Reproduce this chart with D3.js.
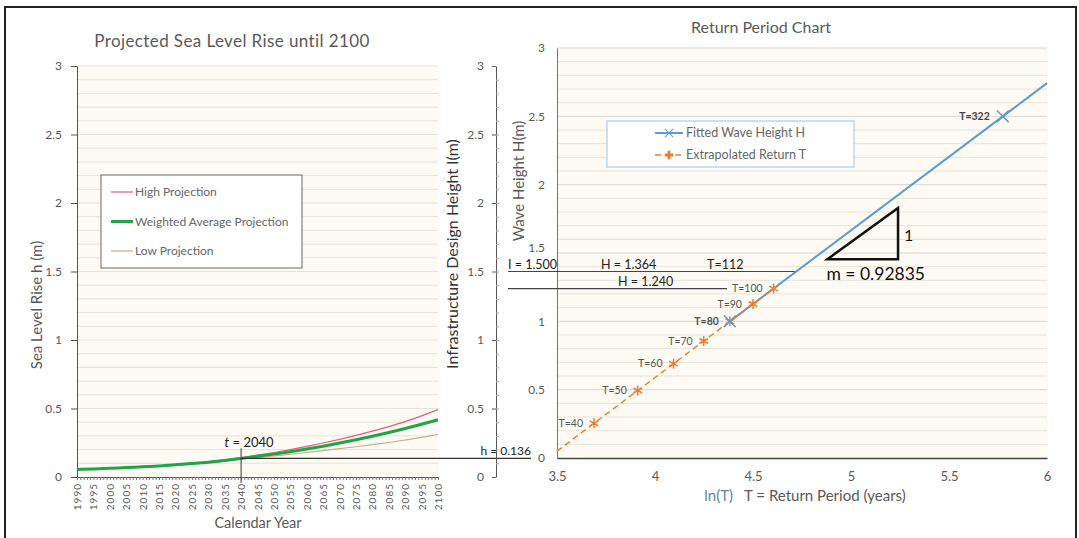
<!DOCTYPE html>
<html>
<head>
<meta charset="utf-8">
<script src="https://cdn.jsdelivr.net/npm/d3@7"></script>
<style>
  body { margin: 0; background: #fff; }
  text { font-family: Lato, "Open Sans", sans-serif; }
</style>
</head>
<body>
<div id="canvas"></div>
<script>
// ---- sea level projection (left chart) ----
const years = [1990, 1995, 2000, 2005, 2010, 2015, 2020, 2025, 2030, 2035, 2040, 2045,
  2050, 2055, 2060, 2065, 2070, 2075, 2080, 2085, 2090, 2095, 2100];
const highProj = [0.055, 0.059, 0.064, 0.069, 0.075, 0.082, 0.090, 0.100, 0.112, 0.126, 0.142, 0.160,
  0.179, 0.200, 0.223, 0.248, 0.275, 0.304, 0.335, 0.368, 0.404, 0.446, 0.492];
const weightedProj = [0.055, 0.059, 0.064, 0.069, 0.075, 0.081, 0.089, 0.098, 0.108, 0.121, 0.136, 0.151,
  0.167, 0.185, 0.204, 0.225, 0.248, 0.272, 0.298, 0.325, 0.354, 0.385, 0.418];
const lowProj = [0.055, 0.059, 0.063, 0.068, 0.074, 0.080, 0.087, 0.095, 0.105, 0.117, 0.130, 0.142,
  0.154, 0.166, 0.179, 0.193, 0.207, 0.221, 0.236, 0.252, 0.270, 0.289, 0.310];
const projNames = ["High Projection", "Weighted Average Projection", "Low Projection"];
const designYear = 2040;
const designRise = 0.136;

// ---- return period (right chart) ----
const returnPeriods = [40, 50, 60, 70, 80, 90, 100];
const extrapH = [0.254, 0.494, 0.690, 0.856, 1.0, 1.127, 1.240];
const extrapStart = [3.5, 0.05];      // [ln(T), H] where the dashed line enters
const fittedT = [80, 322];
const fittedH = [1.0, 2.5];
const fittedEnd = [6, 2.743];         // [ln(T), H] where the fitted line leaves
const designI = 1.5;
const designT = 112;
const designH = 1.364;
const slopeTri = [[4.88, 1.455], [5.24, 1.455], [5.24, 1.83]];
const slopeM = "0.92835";

const yTicks = [0, 0.5, 1, 1.5, 2, 2.5, 3];
const lnTicks = [3.5, 4, 4.5, 5, 5.5, 6];

let svg = d3.select("#canvas")
  .append("svg")
  .attr("width", 1079)
  .attr("height", 538);

// outer frame
svg.append("rect")
  .attr("x", 5).attr("y", 7)
  .attr("width", 1071).attr("height", 540)
  .attr("fill", "none")
  .attr("stroke", "#222")
  .attr("stroke-width", 2);

const labelColor = "#595959";
const gridColor = "#e6e3da";
const fmt = d => d;

// ---------------- left chart ----------------
let xL = d3.scaleLinear().domain([1990, 2100]).range([77, 438]);
let yL = d3.scaleLinear().domain([0, 3]).range([477, 66]);

svg.append("rect")
  .attr("x", xL(1990)).attr("y", yL(3))
  .attr("width", xL(2100) - xL(1990)).attr("height", yL(0) - yL(3))
  .attr("fill", "#fdfbf3");

svg.append("g")
  .selectAll("line")
  .data(d3.range(1, 31).map(d => d / 10))
  .enter()
  .append("line")
  .attr("x1", xL(1990)).attr("x2", xL(2100))
  .attr("y1", d => yL(d)).attr("y2", d => yL(d))
  .attr("stroke", gridColor);

// y axis
let gyL = svg.append("g")
  .attr("transform", "translate(" + xL(1990) + ",0)")
  .call(d3.axisLeft(yL).tickValues(yTicks).tickFormat(fmt).tickSize(6).tickSizeOuter(0).tickPadding(9));
gyL.select(".domain").attr("stroke", "#555");
gyL.selectAll(".tick line").attr("stroke", "#555");
gyL.selectAll("text").attr("fill", labelColor).style("font-size", "12px");

// x axis: minor year ticks + rotated labels every 5 years
let gxMinor = svg.append("g")
  .attr("transform", "translate(0," + yL(0) + ")")
  .call(d3.axisBottom(xL).tickValues(d3.range(1990, 2101)).tickSize(3).tickFormat("").tickSizeOuter(0));
gxMinor.select(".domain").attr("stroke", "#555");
gxMinor.selectAll(".tick line").attr("stroke", "#777");

let gxL = svg.append("g")
  .attr("transform", "translate(0," + yL(0) + ")")
  .call(d3.axisBottom(xL).tickValues(years).tickSize(0).tickFormat(d3.format("d")));
gxL.select(".domain").remove();
gxL.selectAll("text")
  .attr("transform", "rotate(-90)")
  .attr("x", -6).attr("y", 0).attr("dy", "0.35em")
  .style("text-anchor", "end")
  .style("font-size", "10px")
  .style("letter-spacing", "1px")
  .attr("fill", labelColor);

// projection curves
let curveLine = vals => d3.line()
  .x((d, i) => xL(years[i]))
  .y(d => yL(d))
  .curve(d3.curveMonotoneX)(vals);

const projColors = ["#e0607a", "#1fa448", "#c8ad88"];
const projWidths = [1.2, 3, 1.2];
[lowProj, highProj, weightedProj].forEach((vals, k) => {
  let idx = [2, 0, 1][k];
  svg.append("path")
    .attr("d", curveLine(vals))
    .attr("fill", "none")
    .attr("stroke", projColors[idx])
    .attr("stroke-width", projWidths[idx]);
});

// design year marker
svg.append("line")
  .attr("x1", xL(designYear)).attr("x2", xL(designYear))
  .attr("y1", yL(designRise) - 10).attr("y2", yL(0) + 6)
  .attr("stroke", "#333").attr("stroke-width", 1);
svg.append("line")
  .attr("x1", xL(designYear)).attr("x2", 531)
  .attr("y1", yL(designRise)).attr("y2", yL(designRise))
  .attr("stroke", "#333").attr("stroke-width", 1.2);

let tLabel = svg.append("text")
  .attr("x", xL(designYear) + 8).attr("y", yL(designRise) - 11)
  .attr("text-anchor", "middle")
  .attr("fill", "#222")
  .style("font-size", "13px");
tLabel.append("tspan").style("font-style", "italic").text("t");
tLabel.append("tspan").text(" = " + designYear);

svg.append("text")
  .attr("x", 531).attr("y", yL(designRise) - 3)
  .attr("text-anchor", "end")
  .attr("fill", "#222")
  .style("font-size", "12px")
  .text("h = " + designRise.toFixed(3));

// legend
let legL = svg.append("g").attr("transform", "translate(101,175)");
legL.append("rect")
  .attr("width", 201).attr("height", 93)
  .attr("fill", "#fff")
  .attr("stroke", "#666");
projNames.forEach((name, i) => {
  let y = 17 + i * 29.5;
  legL.append("line")
    .attr("x1", 10).attr("x2", 32).attr("y1", y).attr("y2", y)
    .attr("stroke", projColors[i]).attr("stroke-width", i == 1 ? 3 : 1.2);
  legL.append("text")
    .attr("x", 34).attr("y", y).attr("dy", "0.35em")
    .attr("fill", "#666")
    .style("font-size", "12px")
    .text(name);
});

// titles
svg.append("text")
  .attr("x", 232).attr("y", 47)
  .attr("text-anchor", "middle")
  .attr("fill", "#595959")
  .style("font-size", "17px")
  .style("letter-spacing", "0.4px")
  .text("Projected Sea Level Rise until 2100");

svg.append("text")
  .attr("x", 258).attr("y", 528)
  .attr("text-anchor", "middle")
  .attr("fill", "#595959")
  .style("font-size", "14.5px")
  .text("Calendar Year");

svg.append("text")
  .attr("transform", "translate(42,305) rotate(-90)")
  .attr("text-anchor", "middle")
  .attr("fill", "#595959")
  .style("font-size", "15px")
  .text("Sea Level Rise h (m)");

// ---------------- middle axis ----------------
let yM = d3.scaleLinear().domain([0, 3]).range([477, 66]);
let gyM = svg.append("g")
  .attr("transform", "translate(496,0)")
  .call(d3.axisLeft(yM).tickValues(yTicks).tickFormat(fmt).tickSize(4).tickSizeOuter(0).tickPadding(8));
gyM.select(".domain").attr("stroke", "#555");
gyM.selectAll(".tick line").attr("stroke", "#555");
gyM.selectAll("text").attr("fill", labelColor).style("font-size", "12px");

let gyMminor = svg.append("g")
  .attr("transform", "translate(496,0)")
  .call(d3.axisRight(yM).tickValues(d3.range(1, 30).map(d => d / 10)).tickSize(3).tickFormat("").tickSizeOuter(0));
gyMminor.select(".domain").remove();
gyMminor.selectAll(".tick line").attr("stroke", "#aaa");

svg.append("text")
  .attr("transform", "translate(458,254) rotate(-90)")
  .attr("text-anchor", "middle")
  .attr("fill", "#333")
  .style("font-size", "16px")
  .text("Infrastructure Design Height I(m)");

// ---------------- right chart ----------------
let xR = d3.scaleLinear().domain([3.5, 6]).range([557, 1047]);
let yR = d3.scaleLinear().domain([0, 3]).range([458, 48]);

svg.append("rect")
  .attr("x", xR(3.5)).attr("y", yR(3))
  .attr("width", xR(6) - xR(3.5)).attr("height", yR(0) - yR(3))
  .attr("fill", "#fdfbf3");

svg.append("g")
  .selectAll("line")
  .data(d3.range(1, 31).map(d => d / 10))
  .enter()
  .append("line")
  .attr("x1", xR(3.5)).attr("x2", xR(6))
  .attr("y1", d => yR(d)).attr("y2", d => yR(d))
  .attr("stroke", (d, i) => (i + 1) % 5 == 0 ? "#d6d6d6" : gridColor);

let gyR = svg.append("g")
  .attr("transform", "translate(" + xR(3.5) + ",0)")
  .call(d3.axisLeft(yR).tickValues(yTicks).tickFormat(fmt).tickSize(0).tickSizeOuter(0).tickPadding(12));
gyR.select(".domain").attr("stroke", "#777");
gyR.selectAll("text").attr("fill", labelColor).style("font-size", "12px");
// the 1.5 label sits just above the design line
gyR.selectAll(".tick").filter(d => d == 1.5).select("text").attr("dy", "-0.1em");

let gxR = svg.append("g")
  .attr("transform", "translate(0," + yR(0) + ")")
  .call(d3.axisBottom(xR).tickValues(lnTicks).tickFormat(fmt).tickSize(0).tickSizeOuter(0).tickPadding(14));
gxR.select(".domain").attr("stroke", "#444").attr("stroke-width", 1.5);
gxR.selectAll("text").attr("fill", labelColor).style("font-size", "13px");

// design level lines
svg.append("line")
  .attr("x1", 508).attr("x2", xR(Math.log(designT)))
  .attr("y1", yM(designI)).attr("y2", yM(designI))
  .attr("stroke", "#444").attr("stroke-width", 1.2);
svg.append("line")
  .attr("x1", 508).attr("x2", 727)
  .attr("y1", yR(1.24)).attr("y2", yR(1.24))
  .attr("stroke", "#444").attr("stroke-width", 1.2);

const annStyle = sel => sel.attr("fill", "#222").style("font-size", "12.5px");
svg.append("text").attr("x", 508).attr("y", yM(designI) - 3).call(annStyle)
  .text("I = " + designI.toFixed(3));
svg.append("text").attr("x", 601).attr("y", yM(designI) - 3).call(annStyle)
  .text("H = " + designH.toFixed(3));
svg.append("text").attr("x", 707).attr("y", yM(designI) - 3).call(annStyle)
  .text("T=" + designT);
svg.append("text").attr("x", 618).attr("y", yR(1.24) - 3).call(annStyle)
  .text("H = 1.240");

// fitted (blue) and extrapolated (orange) lines
const blue = "#5b9bd5", orange = "#ed7d31";
let lineR = d3.line().x(d => xR(d[0])).y(d => yR(d[1]));

let extrapPts = [extrapStart].concat(returnPeriods.map((t, i) => [Math.log(t), extrapH[i]]));
let fittedPts = fittedT.map((t, i) => [Math.log(t), fittedH[i]]).concat([fittedEnd]);

svg.append("path")
  .attr("d", lineR(fittedPts))
  .attr("fill", "none").attr("stroke", blue).attr("stroke-width", 2);
svg.append("path")
  .attr("d", lineR(extrapPts))
  .attr("fill", "none").attr("stroke", orange).attr("stroke-width", 1.5)
  .attr("stroke-dasharray", "6,4");

let star = d3.symbol().type(d3.symbolAsterisk).size(70);
let cross = d3.symbol().type(d3.symbolX).size(90);

svg.selectAll(".ext-pt")
  .data(returnPeriods)
  .enter()
  .append("path")
  .attr("class", "ext-pt")
  .attr("d", star)
  .attr("transform", (d, i) => "translate(" + xR(Math.log(d)) + "," + yR(extrapH[i]) + ")")
  .attr("fill", "none").attr("stroke", orange).attr("stroke-width", 1.5);

svg.selectAll(".fit-pt")
  .data(fittedT)
  .enter()
  .append("path")
  .attr("class", "fit-pt")
  .attr("d", cross)
  .attr("transform", (d, i) => "translate(" + xR(Math.log(d)) + "," + yR(fittedH[i]) + ")")
  .attr("fill", "none").attr("stroke", blue).attr("stroke-width", 1.5);

// point labels
svg.selectAll(".ext-lab")
  .data(returnPeriods)
  .enter()
  .append("text")
  .attr("class", "ext-lab")
  .attr("x", d => xR(Math.log(d)) - 11)
  .attr("y", (d, i) => yR(extrapH[i]))
  .attr("dy", "0.35em")
  .attr("text-anchor", "end")
  .attr("fill", "#555")
  .style("font-size", "10.5px")
  .style("font-weight", d => d == 80 ? "bold" : "normal")
  .text(d => "T=" + d);

svg.append("text")
  .attr("x", xR(Math.log(fittedT[1])) - 13)
  .attr("y", yR(fittedH[1]))
  .attr("dy", "0.35em")
  .attr("text-anchor", "end")
  .attr("fill", "#444")
  .style("font-size", "10.5px")
  .style("font-weight", "bold")
  .text("T=" + fittedT[1]);

// slope triangle
svg.append("path")
  .attr("d", lineR(slopeTri) + "Z")
  .attr("fill", "none").attr("stroke", "#111").attr("stroke-width", 2.5);
svg.append("text")
  .attr("x", xR(slopeTri[1][0]) + 6).attr("y", (yR(slopeTri[1][1]) + yR(slopeTri[2][1])) / 2 + 7)
  .attr("fill", "#111").style("font-size", "16px")
  .text("1");
svg.append("text")
  .attr("x", xR(slopeTri[0][0]) - 1).attr("y", yR(slopeTri[0][1]) + 21)
  .attr("fill", "#111").style("font-size", "17.5px")
  .text("m = " + slopeM);

// legend
let legR = svg.append("g").attr("transform", "translate(607,121)");
legR.append("rect")
  .attr("width", 247).attr("height", 46)
  .attr("fill", "#fff")
  .attr("stroke", "#9dc3e6");
legR.append("line").attr("x1", 48).attr("x2", 76).attr("y1", 12).attr("y2", 12)
  .attr("stroke", blue).attr("stroke-width", 2);
legR.append("path").attr("d", cross).attr("transform", "translate(62,12) scale(0.7)")
  .attr("fill", "none").attr("stroke", blue).attr("stroke-width", 1.5);
legR.append("line").attr("x1", 48).attr("x2", 76).attr("y1", 34).attr("y2", 34)
  .attr("stroke", orange).attr("stroke-width", 1.5).attr("stroke-dasharray", "6,4");
legR.append("path").attr("d", d3.symbol().type(d3.symbolCross).size(40))
  .attr("transform", "translate(62,34)")
  .attr("fill", orange);
["Fitted Wave Height H", "Extrapolated Return T"].forEach((name, i) => {
  legR.append("text")
    .attr("x", 79).attr("y", 12 + i * 22).attr("dy", "0.35em")
    .attr("fill", "#666").style("font-size", "12.5px")
    .text(name);
});

// titles
svg.append("text")
  .attr("x", 761).attr("y", 33)
  .attr("text-anchor", "middle")
  .attr("fill", "#595959")
  .style("font-size", "16px")
  .text("Return Period Chart");

svg.append("text")
  .attr("transform", "translate(524,181) rotate(-90)")
  .attr("text-anchor", "middle")
  .attr("fill", "#595959")
  .style("font-size", "15px")
  .text("Wave Height H(m)");

let xTitle = svg.append("text")
  .attr("x", 805).attr("y", 501)
  .attr("text-anchor", "middle")
  .attr("fill", "#595959")
  .style("font-size", "15px")
  .attr("xml:space", "preserve");
xTitle.append("tspan").attr("fill", "#6a7fa0").text("ln(T)");
xTitle.append("tspan").text("   T = Return Period (years)");
</script>
</body>
</html>
